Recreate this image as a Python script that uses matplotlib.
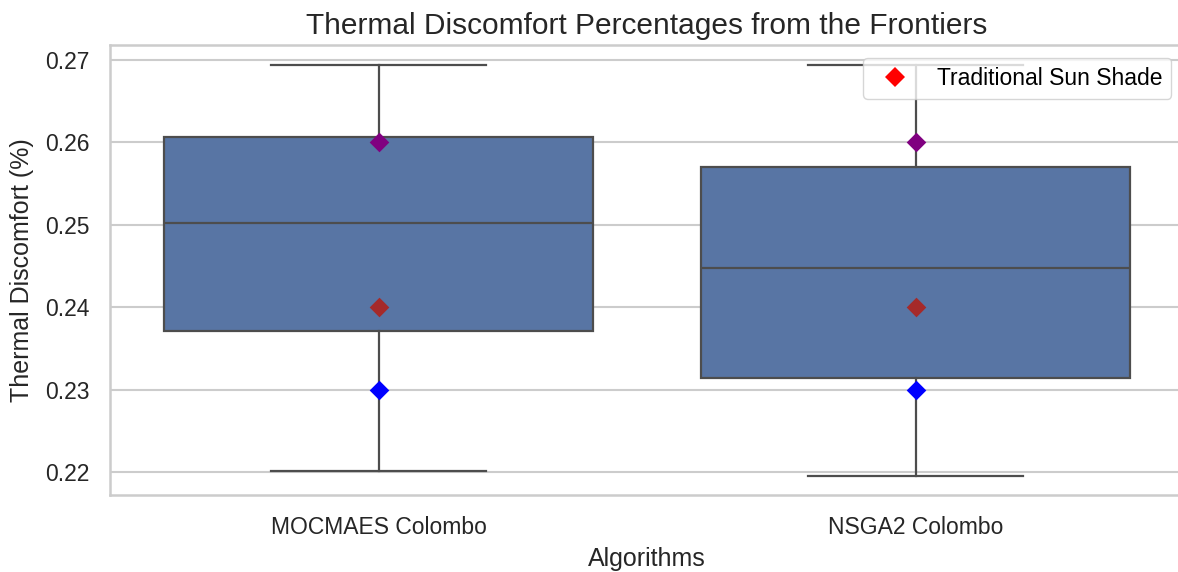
import matplotlib
matplotlib.use('Agg')
import matplotlib.pyplot as plt
from matplotlib.lines import Line2D
import numpy as np

# box statistics
algorithms = ['MOCMAES Colombo', 'NSGA2 Colombo']
whisker_low = [0.2201, 0.2195]
q1 = [0.2371, 0.2314]
median = [0.2502, 0.2447]
q3 = [0.2606, 0.2570]
whisker_high = [0.2694, 0.2694]

# reference points drawn on top of each box
point_values = [0.26, 0.24, 0.23]
point_colors = ['purple', 'brown', 'blue']

plt.rcParams['font.family'] = ['Liberation Sans', 'DejaVu Sans']

fig = plt.figure(figsize=(11.78, 5.72), dpi=100)
ax = fig.add_axes([110 / 1178, 1 - 495 / 572, 1074 / 1178, 450 / 572])

stats = []
for i, name in enumerate(algorithms):
    stats.append({'label': name, 'whislo': whisker_low[i], 'q1': q1[i], 'med': median[i],
                  'q3': q3[i], 'whishi': whisker_high[i], 'fliers': []})

line_kw = dict(color='#4d4d4d', linewidth=1.6)
ax.bxp(stats, positions=range(len(algorithms)), widths=0.8, patch_artist=True,
       showfliers=False,
       boxprops=dict(facecolor='#5875a4', edgecolor='#4d4d4d', linewidth=1.6),
       whiskerprops=line_kw, capprops=line_kw, medianprops=line_kw, zorder=2)

for val, col in zip(point_values, point_colors):
    ax.scatter(range(len(algorithms)), [val] * len(algorithms), marker='D', s=100,
               color=col, linewidths=0, zorder=3)

ax.set_xlim(-0.5, 1.5)
ax.set_ylim(0.2172, 0.2718)
ax.set_yticks([0.22, 0.23, 0.24, 0.25, 0.26, 0.27])
ax.set_yticklabels(['0.22', '0.23', '0.24', '0.25', '0.26', '0.27'])

ax.grid(axis='y', color='#cccccc', linewidth=1.5)
ax.grid(axis='x', visible=False)
ax.set_axisbelow(True)
for sp in ax.spines.values():
    sp.set_color('#cccccc')
    sp.set_linewidth(1.8)
ax.tick_params(axis='both', length=0, labelsize=16.5, colors='#262626')
ax.tick_params(axis='y', pad=15)
ax.tick_params(axis='x', pad=15)

ax.set_title('Thermal Discomfort Percentages from the Frontiers', fontsize=21.5,
             color='#262626', pad=8)
ax.set_xlabel('Algorithms', fontsize=18, color='#262626', labelpad=6)
ax.set_ylabel('Thermal Discomfort (%)', fontsize=18, color='#262626', labelpad=8)

handle = Line2D([], [], marker='D', linestyle='none', color='red', markersize=10,
                markeredgewidth=0)
ax.legend([handle], ['Traditional Sun Shade'], loc='upper right', fontsize=16.5,
          frameon=True, facecolor='white', edgecolor='#cccccc', framealpha=0.8,
          borderaxespad=0.55)

fig.savefig('out.png', dpi=100)
